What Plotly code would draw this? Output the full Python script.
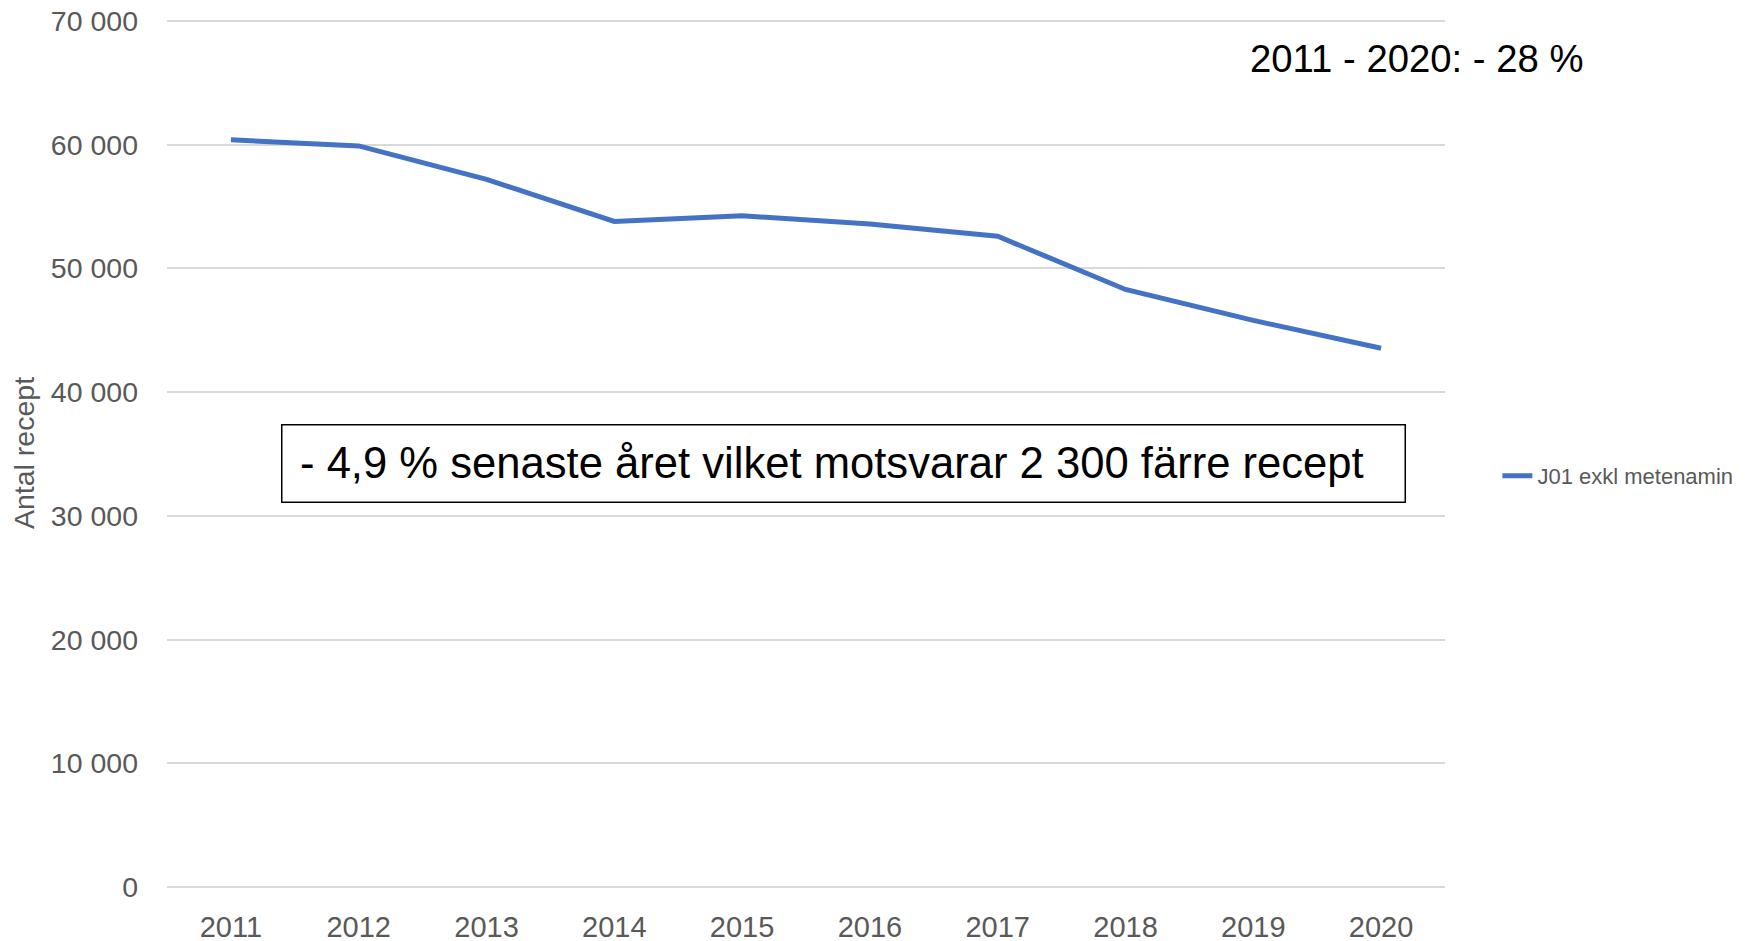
import plotly.graph_objects as go

years = ["2011", "2012", "2013", "2014", "2015", "2016", "2017", "2018", "2019", "2020"]
antal_recept = [60400, 59900, 57200, 53800, 54250, 53600, 52600, 48300, 45800, 43550]
series_name = "J01 exkl metenamin"
y_ticks = [0, 10000, 20000, 30000, 40000, 50000, 60000, 70000]

FONT = "Liberation Sans, Arial, sans-serif"
GREY = "#595959"

# page has an 8px body margin, so the figure is sized/offset to compensate
W, H = 1744, 933
L, T = 159, 11
PW, PH = 1278, 868
R, B = W - L - PW, H - T - PH
Y_TOP = 70000 * PH / 866  # small headroom so the 70 000 gridline is drawn


def py(pix):  # page pixel y -> paper fraction
    return (887 - pix) / PH


def px(pix):  # page pixel x -> paper fraction
    return (pix - 167) / PW


fig = go.Figure()
fig.add_trace(go.Scatter(
    x=years, y=antal_recept, mode="lines", name=series_name,
    line=dict(color="#4472C4", width=5),
))

fig.update_layout(
    width=W, height=H,
    margin=dict(l=L, r=R, t=T, b=B, autoexpand=False),
    paper_bgcolor="white", plot_bgcolor="white",
    separators=", ",
    font=dict(family=FONT, color=GREY),
    showlegend=True,
    legend=dict(
        x=1.041, y=py(476), xanchor="left", yanchor="middle",
        font=dict(family=FONT, size=22, color=GREY),
        bgcolor="rgba(0,0,0,0)",
    ),
    xaxis=dict(
        type="category", range=[-0.5, 9.5], automargin=False,
        showgrid=False, showline=False, zeroline=False,
        tickfont=dict(family=FONT, size=29, color=GREY),
        ticks="", ticklabelstandoff=20, ticklabeloverflow="allow",
    ),
    yaxis=dict(
        range=[0, Y_TOP], tickvals=y_ticks, tickformat=",d", automargin=False,
        showgrid=True, gridcolor="#D9D9D9", gridwidth=1.5,
        zeroline=True, zerolinecolor="#D9D9D9", zerolinewidth=1.5,
        showline=False, ticks="", ticklabelstandoff=28, ticklabeloverflow="allow",
        tickfont=dict(family=FONT, size=28.5, color=GREY),
        title=dict(text="Antal recept", standoff=14,
                   font=dict(family=FONT, size=28.5, color=GREY)),
    ),
)

fig.add_annotation(
    xref="paper", yref="paper", x=px(1417), y=py(58),
    xanchor="center", yanchor="middle", showarrow=False,
    text="2011 - 2020: - 28 %",
    font=dict(family=FONT, size=38.3, color="black"),
)

# framed text box
fig.add_annotation(
    xref="paper", yref="paper", x=px(843.6), y=py(463),
    xanchor="center", yanchor="middle", showarrow=False,
    text=" ", font=dict(family=FONT, size=20, color="black"),
    bordercolor="black", borderwidth=1.5, bgcolor="white",
    width=1120, height=74,
)
fig.add_annotation(
    xref="paper", yref="paper", x=px(832), y=py(463),
    xanchor="center", yanchor="middle", showarrow=False,
    text="- 4,9 % senaste året vilket motsvarar 2 300 färre recept",
    font=dict(family=FONT, size=43.6, color="black"),
)

fig.write_html("out.html")
